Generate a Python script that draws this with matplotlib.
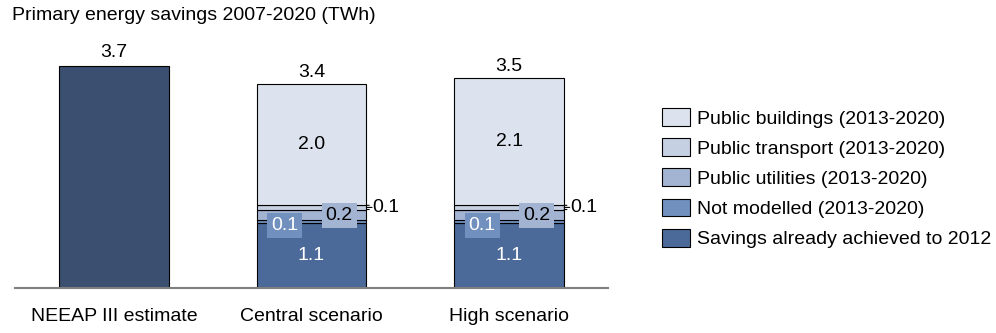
import matplotlib
matplotlib.use("Agg")
import matplotlib.pyplot as plt
from matplotlib.patches import Patch

plt.rcParams['font.family'] = ['Liberation Sans', 'DejaVu Sans']
plt.rcParams['font.size'] = 14

# Data (TWh primary energy savings 2007-2020)
categories = ["NEEAP III estimate", "Central scenario", "High scenario"]
neeap_total = 3.7
achieved = [1.08, 1.08]        # Savings already achieved to 2012
not_modelled = [0.05, 0.05]    # Not modelled (2013-2020)
utilities = [0.17, 0.17]       # Public utilities (2013-2020)
transport = [0.07, 0.07]       # Public transport (2013-2020)
buildings = [2.03, 2.13]       # Public buildings (2013-2020)

series_names = ["Public buildings (2013-2020)", "Public transport (2013-2020)",
                "Public utilities (2013-2020)", "Not modelled (2013-2020)",
                "Savings already achieved to 2012"]

c_neeap = "#3b4f70"
c_achieved = "#4b6a99"
c_notmod = "#7190be"
c_util = "#a3b4d2"
c_trans = "#c6d0e3"
c_build = "#dde3ee"

W, H = 996, 333
fig = plt.figure(figsize=(W / 100, H / 100), dpi=100)
ax = fig.add_axes([15 / W, (H - 287.5) / H, 593 / W, 240 / H])
ax.set_xlim(-0.5, 2.5)
ax.set_ylim(0, 4.0)

bw = 0.556
edge = dict(edgecolor="black", linewidth=0.8)

# NEEAP estimate bar
ax.bar(0, neeap_total, width=bw, color=c_neeap, **edge)
ax.annotate(f"{neeap_total:.1f}", (0, neeap_total), xytext=(0, 3),
            textcoords="offset points", ha="center", va="bottom")

# Stacked scenario bars
xs = [1, 2]
for i, x in enumerate(xs):
    stack = [(achieved[i], c_achieved), (not_modelled[i], c_notmod),
             (utilities[i], c_util), (transport[i], c_trans),
             (buildings[i], c_build)]
    bottom = 0.0
    mids = []
    for val, col in stack:
        ax.bar(x, val, width=bw, bottom=bottom, color=col, **edge)
        mids.append(bottom + val / 2)
        bottom += val
    total = bottom

    # values inside the bar
    ax.text(x, mids[0], f"{achieved[i]:.1f}", ha="center", va="center", color="white")
    ax.text(x, mids[4], f"{buildings[i]:.1f}", ha="center", va="center", color="black")
    ax.annotate(f"{not_modelled[i]:.1f}", (x, mids[1]), xytext=(-19.5, -3),
                textcoords="offset points", ha="center", va="center", color="white",
                bbox=dict(boxstyle="square,pad=0.2", facecolor=c_notmod, edgecolor="none"))
    ax.annotate(f"{utilities[i]:.1f}", (x, mids[2]), xytext=(20, -0.5),
                textcoords="offset points", ha="center", va="center", color="black",
                bbox=dict(boxstyle="square,pad=0.2", facecolor=c_util, edgecolor="none"))

    # transport value outside the bar, with a short bracket leader
    right = x + bw / 2
    lo = achieved[i] + not_modelled[i] + utilities[i]
    hi = lo + transport[i]
    line = dict(arrowstyle="-", lw=0.8, color="black", shrinkA=0, shrinkB=0)
    ax.annotate("", (right, lo), xytext=(2, 0), textcoords="offset points",
                arrowprops=line, annotation_clip=False)
    ax.annotate("", (right, hi), xytext=(2, 0), textcoords="offset points",
                arrowprops=line, annotation_clip=False)
    ax.annotate("", (right, mids[3]), xytext=(4, 0), textcoords="offset points",
                arrowprops=line, annotation_clip=False)
    ax.annotate(f"{transport[i]:.1f}", (right, mids[3]), xytext=(4.3, 0),
                textcoords="offset points", ha="left", va="center")

    ax.annotate(f"{total:.1f}", (x, total), xytext=(0, 2),
                textcoords="offset points", ha="center", va="bottom")

# Axes styling
ax.set_xticks([0, 1, 2])
ax.set_xticklabels(categories)
ax.tick_params(axis="x", length=0, pad=15)
ax.set_yticks([])
for s in ["top", "left", "right"]:
    ax.spines[s].set_visible(False)
ax.spines["bottom"].set_color("#7f7f7f")
ax.spines["bottom"].set_linewidth(1.5)

fig.text(12 / W, 1 - 15.5 / H, "Primary energy savings 2007-2020 (TWh)",
         ha="left", va="center")

handles = [Patch(facecolor=c, edgecolor="black", linewidth=0.8)
           for c in [c_build, c_trans, c_util, c_notmod, c_achieved]]
fig.legend(handles, series_names, loc="upper left",
           bbox_to_anchor=(662 / W, 1 - 108 / H), frameon=False,
           borderpad=0, borderaxespad=0, handlelength=1.44, handleheight=1.03,
           handletextpad=0.36, labelspacing=0.55)

fig.savefig("out.png", dpi=100)
